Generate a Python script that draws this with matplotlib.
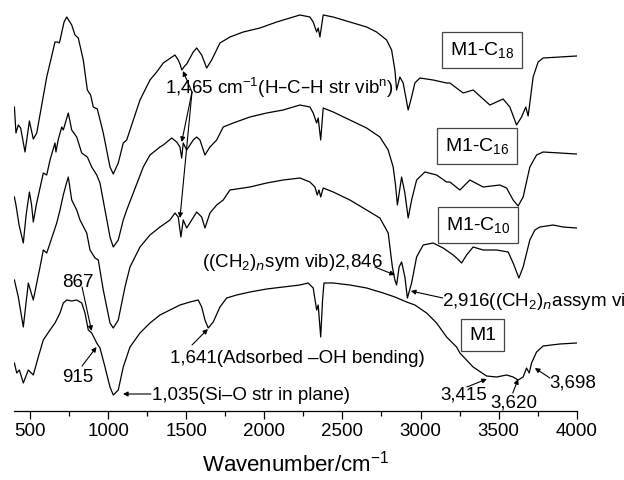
import matplotlib
matplotlib.use("Agg")
import matplotlib.pyplot as plt

plt.rcParams['font.family'] = ['Liberation Sans', 'DejaVu Sans']
plt.rcParams['mathtext.default'] = 'regular'

# ---- data (wavenumber cm^-1, transmittance a.u. with offsets) ----
c18_w = [400, 410, 425, 440, 468, 496, 521, 543, 607, 660, 675, 688, 718, 735, 767, 788, 809, 841, 867, 888,
         905, 931, 969, 1012, 1033, 1065, 1097, 1119, 1204, 1268, 1311, 1353, 1428, 1449, 1460, 1472, 1490,
         1503, 1545, 1567, 1599, 1631, 1663, 1716, 1780, 1865, 1972, 2079, 2185, 2228, 2292, 2313, 2335, 2345,
         2356, 2377, 2441, 2548, 2655, 2719, 2783, 2815, 2836, 2847, 2868, 2889, 2921, 2943, 2964, 2996, 3081,
         3167, 3188, 3273, 3337, 3444, 3529, 3572, 3615, 3647, 3674, 3689, 3700, 3721, 3753, 3785, 3892, 3999]
c18_t = [304, 278, 286, 283, 259, 290, 272, 278, 334, 369, 369, 368, 389, 394, 386, 376, 373, 351, 321, 316,
         304, 302, 278, 244, 237, 248, 268, 271, 311, 331, 339, 348, 356, 351, 347, 341, 345,
         347, 359, 363, 356, 343, 351, 368, 374, 379, 383, 389, 394, 396, 394, 389, 379, 383,
         374, 396, 394, 389, 384, 379, 371, 361, 341, 321, 334, 328, 301, 314, 328, 333, 331,
         328, 328, 318, 321, 306, 312, 304, 286, 294, 304, 295, 308, 334, 349, 353, 354, 355]

c16_w = [400, 410, 430, 457, 475, 496, 510, 521, 540, 585, 607, 628, 660, 666, 680, 703, 713, 745, 767, 799,
         831, 867, 895, 927, 948, 980, 1012, 1033, 1065, 1097, 1119, 1161, 1225, 1268, 1332, 1353, 1407, 1439,
         1460, 1471, 1481, 1503, 1545, 1567, 1588, 1620, 1652, 1695, 1737, 1801, 1908, 2015, 2121, 2228, 2292,
         2313, 2335, 2345, 2361, 2377, 2441, 2548, 2655, 2740, 2793, 2825, 2840, 2852, 2879, 2900, 2921, 2943,
         2975, 3028, 3103, 3167, 3188, 3252, 3316, 3401, 3508, 3551, 3593, 3625, 3657, 3700, 3743, 3785, 3892, 3999]
c16_t = [214, 206, 186, 168, 196, 219, 206, 189, 206, 238, 236, 251, 268, 259, 271, 284, 281, 298, 281, 274,
         258, 254, 244, 236, 228, 201, 174, 164, 171, 191, 201, 218, 244, 256, 264, 266, 273, 269,
         264, 253, 268, 261, 271, 274, 271, 256, 264, 271, 284, 288, 294, 298, 301, 306, 304,
         298, 288, 293, 271, 303, 299, 291, 283, 274, 261, 244, 226, 206, 234, 218, 193, 211,
         231, 239, 236, 229, 229, 221, 231, 224, 226, 223, 211, 205, 214, 244, 256, 259, 258, 257]

c10_w = [400, 425, 457, 489, 521, 564, 585, 607, 671, 692, 713, 730, 745, 767, 799, 820, 863, 884, 916, 937,
         969, 1012, 1033, 1065, 1108, 1140, 1204, 1268, 1332, 1396, 1428, 1449, 1466, 1481, 1503, 1535, 1567,
         1599, 1620, 1652, 1695, 1737, 1780, 1908, 2015, 2121, 2228, 2292, 2324, 2339, 2350, 2361, 2377, 2441,
         2548, 2655, 2740, 2793, 2820, 2836, 2847, 2863, 2879, 2900, 2916, 2943, 2975, 3017, 3081, 3145, 3209,
         3231, 3263, 3295, 3337, 3401, 3487, 3561, 3593, 3630, 3657, 3700, 3732, 3764, 3849, 3913, 3999]
c10_t = [131, 114, 84, 128, 111, 144, 161, 158, 188, 201, 216, 226, 234, 211, 201, 191, 178, 161, 153, 151,
         121, 88, 83, 91, 124, 144, 164, 176, 184, 191, 198, 194, 174, 191, 183, 191, 199,
         194, 183, 198, 206, 211, 221, 224, 228, 231, 233, 229, 224, 216, 221, 214, 223, 219,
         211, 201, 193, 178, 144, 131, 126, 144, 149, 134, 113, 128, 154, 166, 168, 163, 156,
         153, 148, 156, 164, 161, 161, 159, 148, 133, 144, 171, 181, 184, 186, 184, 183]

m1_w = [400, 415, 432, 457, 489, 521, 553, 585, 628, 660, 692, 713, 735, 767, 799, 831, 852, 873, 895, 927,
        948, 980, 1012, 1033, 1065, 1097, 1140, 1204, 1268, 1332, 1396, 1460, 1524, 1577, 1599, 1620, 1641,
        1673, 1716, 1759, 1823, 1908, 2015, 2121, 2228, 2281, 2313, 2335, 2345, 2361, 2373, 2382, 2441, 2548,
        2655, 2761, 2836, 2911, 2964, 3039, 3103, 3167, 3231, 3252, 3337, 3423, 3487, 3551, 3593, 3625, 3657,
        3679, 3696, 3711, 3743, 3785, 3892, 3999]
m1_t = [48, 38, 41, 28, 41, 36, 54, 71, 81, 88, 98, 108, 111, 110, 111, 108, 98, 81, 78, 68,
        63, 44, 24, 16, 21, 44, 64, 78, 88, 96, 101, 106, 109, 111, 104, 91, 83,
        89, 104, 113, 116, 119, 122, 124, 126, 128, 123, 101, 106, 74, 111, 128, 128, 126,
        123, 118, 114, 109, 106, 98, 88, 74, 64, 58, 44, 35, 34, 36, 34, 31, 34,
        43, 38, 48, 59, 65, 67, 68]

sample_labels = ['M1-C$_{18}$', 'M1-C$_{16}$', 'M1-C$_{10}$', 'M1']
x_ticks = [500, 1000, 1500, 2000, 2500, 3000, 3500, 4000]

# ---- figure ----
fig = plt.figure(figsize=(6.24, 4.8), dpi=100)
ax = fig.add_axes([14.4 / 624, 69 / 480, (576.7 - 14.4) / 624, 411 / 480])

for w, t in [(c18_w, c18_t), (c16_w, c16_t), (c10_w, c10_t), (m1_w, m1_t)]:
    ax.plot(w, t, color='black', lw=0.9)

ax.set_xlim(400, 4000)
ax.set_ylim(0, 411)
for s in ['top', 'right', 'left']:
    ax.spines[s].set_visible(False)
ax.spines['bottom'].set_linewidth(0.9)
ax.set_yticks([])
ax.set_xticks(x_ticks)
ax.set_xticks(range(750, 4000, 500), minor=True)
ax.tick_params(axis='x', which='major', length=6, width=0.9, labelsize=13.5, pad=3)
ax.tick_params(axis='x', which='minor', length=3.5, width=0.9)
ax.set_xlabel('Wavenumber/cm$^{-1}$', fontsize=16, labelpad=7)

# sample boxes
box_pos = [(3393, 361), (3361, 265), (3367, 186), (3399, 76)]
for lab, (bx, by) in zip(sample_labels, box_pos):
    ax.text(bx, by, lab, fontsize=14, ha='center', va='center',
            bbox=dict(boxstyle='square,pad=0.4', fc='white', ec='#444444', lw=0.9))

ap = dict(arrowstyle='-|>', lw=0.8, color='black', mutation_scale=7, shrinkA=0, shrinkB=0)
fs = 13.5

# 1,465 band
ax.text(1364, 323, '1,465 cm$^{-1}$(H–C–H str vib$^{n}$)', fontsize=fs, ha='left', va='center')
for tx, ty in [(1479, 340), (1471, 269), (1460, 193)]:
    ax.annotate('', xy=(tx, ty), xytext=(1537, 319), arrowprops=ap)

ax.text(1601, 144, '((CH$_2$)$_{\\mathit{n}}$sym vib)2,846', fontsize=fs, ha='left', va='baseline')
ax.annotate('', xy=(2836, 136), xytext=(2708, 144), arrowprops=ap)

ax.text(3135, 105, '2,916((CH$_2$)$_{\\mathit{n}}$assym vi', fontsize=fs, ha='left', va='baseline')
ax.annotate('', xy=(2938, 120), xytext=(3143, 113), arrowprops=ap)

ax.text(705, 124, '867', fontsize=fs, ha='left', va='baseline')
ax.annotate('', xy=(894, 80), xytext=(833, 124), arrowprops=ap)

ax.text(705, 29, '915', fontsize=fs, ha='left', va='baseline')
ax.annotate('', xy=(926, 64), xytext=(833, 45), arrowprops=ap)

ax.text(1396, 48, '1,641(Adsorbed –OH bending)', fontsize=fs, ha='left', va='baseline')
ax.annotate('', xy=(1639, 82), xytext=(1537, 66), arrowprops=ap)

ax.text(1281, 11, '1,035(Si–O str in plane)', fontsize=fs, ha='left', va='baseline')
ax.annotate('', xy=(1095, 17), xytext=(1274, 17), arrowprops=ap)

ax.text(3124, 11, '3,415', fontsize=fs, ha='left', va='baseline')
ax.annotate('', xy=(3425, 32), xytext=(3297, 24), arrowprops=ap)

ax.text(3444, 3, '3,620', fontsize=fs, ha='left', va='baseline')
ax.annotate('', xy=(3625, 32), xytext=(3591, 18), arrowprops=ap)

ax.text(3822, 24, '3,698', fontsize=fs, ha='left', va='baseline')
ax.annotate('', xy=(3732, 43), xytext=(3828, 33), arrowprops=ap)

fig.savefig('out.png', dpi=100)
